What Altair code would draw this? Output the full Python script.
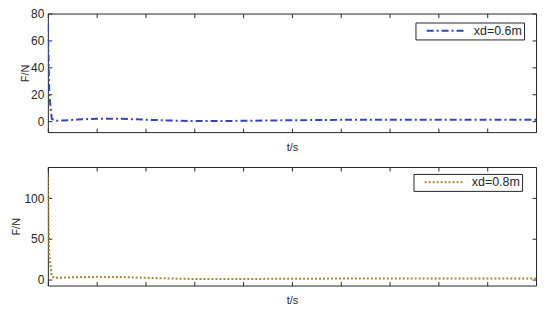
import altair as alt
import pandas as pd

# ---- data ----
t_top = [0, 0.03, 0.08, 0.15, 0.3, 0.6, 1.0, 1.5, 2.0, 2.5, 3.0, 3.5, 4.0, 5.0, 6.0, 7.0, 8.0, 9.0, 10.0]
F_top = [72, 20, 2.0, 0.3, 0.6, 1.3, 2.0, 1.9, 1.2, 0.6, 0.2, 0.2, 0.4, 0.8, 1.1, 1.2, 1.2, 1.2, 1.2]
t_bot = [0, 0.03, 0.08, 0.15, 0.3, 0.6, 1.0, 1.5, 2.0, 2.5, 3.0, 3.5, 4.0, 5.0, 6.0, 7.0, 8.0, 9.0, 10.0]
F_bot = [125, 30, 4.0, 2.5, 2.6, 3.2, 3.6, 3.3, 2.5, 1.6, 1.0, 0.9, 1.0, 1.3, 1.5, 1.6, 1.6, 1.6, 1.6]

name_top = "xd=0.6m"
name_bot = "xd=0.8m"
x_ticks = list(range(11))
y_ticks_top = [0, 20, 40, 60, 80]
y_ticks_bot = [0, 50, 100]

TXT = "#262626"
FONT = "Liberation Sans"


def panel(t, F, name, color, dash, ydom, yticks, ytitlepad, lx, ly):
    df = pd.DataFrame({"t": t, "F": F, "s": name})
    xs = alt.Scale(domain=[0, 10], nice=False)
    ys = alt.Scale(domain=ydom, nice=False, zero=False)
    leg = alt.Legend(title=None, orient="none", legendX=lx, legendY=ly,
                     symbolType="M-4,0L4,0", symbolSize=100, symbolStrokeWidth=2,
                     symbolOffset=23, labelOffset=21,
                     labelFontSize=12.5, labelFont=FONT, labelColor=TXT,
                     padding=2, strokeColor=TXT, fillColor="white", cornerRadius=0)
    main = alt.Chart(df).mark_line(strokeWidth=2, clip=True).encode(
        x=alt.X("t:Q", scale=xs, axis=alt.Axis(
            orient="bottom", values=x_ticks, labels=False, domain=False,
            tickSize=4, offset=-4, tickColor=TXT, title="t/s", titlePadding=9,
            titleFont=FONT, titleFontSize=11, titleFontWeight="normal", titleColor=TXT)),
        y=alt.Y("F:Q", scale=ys, axis=alt.Axis(
            orient="left", values=yticks, domain=False, tickSize=4, offset=-4,
            tickColor=TXT, labelPadding=4, labelFont=FONT, labelFontSize=12,
            labelColor=TXT, title="F/N", titlePadding=ytitlepad, titleFont=FONT,
            titleFontSize=11, titleFontWeight="normal", titleColor=TXT)),
        color=alt.Color("s:N", scale=alt.Scale(domain=[name], range=[color]), legend=leg),
        strokeDash=alt.StrokeDash("s:N", scale=alt.Scale(domain=[name], range=[dash]), legend=leg),
    )
    mirror = alt.Chart(df).mark_line(strokeOpacity=0).encode(
        x=alt.X("t:Q", scale=xs, axis=alt.Axis(
            orient="top", values=x_ticks, labels=False, domain=False, tickSize=4,
            offset=-4, tickColor=TXT, title=None)),
        y=alt.Y("F:Q", scale=ys, axis=alt.Axis(
            orient="right", values=yticks, labels=False, domain=False, tickSize=4,
            offset=-4, tickColor=TXT, title=None)),
    )
    return alt.layer(main, mirror).resolve_axis(x="independent", y="independent").properties(
        width=490, height=119)


top = panel(t_top, F_top, name_top, "#3646B0", [7, 3, 2, 3], [-8, 80], y_ticks_top, 0, 369, 9)
bot = panel(t_bot, F_bot, name_bot, "#A08A2A", [2, 2], [-7, 138], y_ticks_bot, 2, 367, 7)

chart = alt.vconcat(top, bot, spacing=13).resolve_scale(
    color="independent", strokeDash="independent").properties(
    padding={"left": 2, "top": -2, "right": 5, "bottom": 5}
).configure_view(stroke=TXT, strokeWidth=1).configure_axis(grid=False, tickWidth=1)

chart.save("out.html", embed_options={"renderer": "svg", "actions": False})
